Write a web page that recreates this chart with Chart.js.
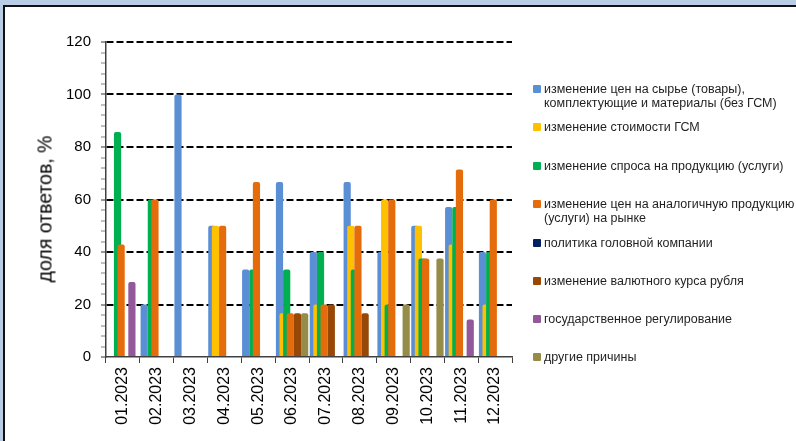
<!DOCTYPE html>
<html>
<head>
<meta charset="utf-8">
<script src="https://cdn.jsdelivr.net/npm/chart.js@4/dist/chart.umd.min.js"></script>
<style>
  html, body { margin: 0; padding: 0; }
  body { width: 796px; height: 441px; background: #b9cde5; position: relative; overflow: hidden;
         font-family: "Liberation Sans", Arial, sans-serif; }
  #frame { position: absolute; left: 3px; top: 5px; width: 800px; height: 450px; background: #fff;
           border-left: 2px solid #111; border-top: 2px solid #111; }
  #wrap { position: absolute; left: 0; top: 0; width: 796px; height: 441px; }
  #ytitle { position: absolute; left: 45px; top: 209px; transform: translate(-50%, -50%) rotate(-90deg);
            font-size: 19.5px; color: #000; white-space: nowrap; }
  #legend { position: absolute; left: 0; top: 0; }
  .item { position: absolute; left: 533px; font-size: 12.5px; line-height: 14px; color: #1f1f1f; white-space: nowrap; }
  .item .box { position: absolute; left: 0; top: 3px; width: 8px; height: 8px; border-radius: 1px; }
  .item .txt { position: absolute; left: 11px; top: 0; }
</style>
</head>
<body>
<div id="frame"></div>
<div id="wrap"><canvas id="chart" width="796" height="441"></canvas></div>
<div id="ytitle">доля ответов, %</div>
<div id="legend"></div>
<script>
// categories (months)
const months = ['01.2023', '02.2023', '03.2023', '04.2023', '05.2023', '06.2023',
                '07.2023', '08.2023', '09.2023', '10.2023', '11.2023', '12.2023'];

// share of answers, %
const rawMaterials    = [0, 20, 100, 50, 33.3, 66.7, 40, 66.7, 40, 50, 57.1, 40];
const fuelCost        = [0, 0, 0, 50, 0, 16.7, 20, 50, 60, 50, 42.9, 20];
const demand          = [85.7, 60, 0, 0, 33.3, 33.3, 40, 33.3, 20, 37.5, 57.1, 40];
const marketPrices    = [42.9, 60, 0, 50, 66.7, 16.7, 20, 50, 60, 37.5, 71.4, 60];
const headCompany     = [0, 0, 0, 0, 0, 0, 0, 0, 0, 0, 0, 0];
const exchangeRate    = [0, 0, 0, 0, 0, 16.7, 20, 16.7, 0, 0, 0, 0];
const stateRegulation = [28.6, 0, 0, 0, 0, 0, 0, 0, 0, 0, 14.3, 0];
const otherReasons    = [0, 0, 0, 0, 0, 16.7, 0, 0, 20, 37.5, 0, 0];

const seriesNames = [
  ['изменение цен на сырье (товары),', 'комплектующие и материалы (без ГСМ)'],
  ['изменение стоимости ГСМ'],
  ['изменение спроса на продукцию (услуги)'],
  ['изменение цен на аналогичную продукцию', '(услуги) на рынке'],
  ['политика головной компании'],
  ['изменение валютного курса рубля'],
  ['государственное регулирование'],
  ['другие причины']
];
const seriesData = [rawMaterials, fuelCost, demand, marketPrices, headCompany, exchangeRate, stateRegulation, otherReasons];
const seriesColors = ['#5b8fd5', '#ffc000', '#00b050', '#e46c0a', '#002060', '#974807', '#935899', '#958c4a'];

const yTicks = [0, 20, 40, 60, 80, 100, 120];

// legend layout (top of first text line for each item)
const legendTops = [82, 120, 159, 197, 236, 274, 312, 350];

const FONT = '"Liberation Sans", Arial, sans-serif';

// Excel draws later series on top of earlier ones
const drawInOrder = {
  id: 'drawInOrder',
  beforeDatasetsDraw(chart) {
    const ctx = chart.ctx;
    const a = chart.chartArea;
    ctx.save();
    ctx.beginPath();
    ctx.rect(a.left, a.top - 5, a.width, a.height + 5);
    ctx.clip();
    chart.data.datasets.forEach((ds, i) => {
      const meta = chart.getDatasetMeta(i);
      if (!meta.hidden) meta.controller.draw();
    });
    ctx.restore();
    return false;
  }
};

new Chart(document.getElementById('chart'), {
  type: 'bar',
  data: {
    labels: months,
    datasets: seriesData.map((d, i) => ({
      label: seriesNames[i].join(' '),
      data: d,
      backgroundColor: seriesColors[i],
      borderWidth: 0,
      borderRadius: 2,
      categoryPercentage: 0.85,
      barPercentage: 2
    }))
  },
  options: {
    responsive: false,
    animation: false,
    layout: { padding: { left: 0, top: 42, right: 284, bottom: 0 } },
    plugins: { legend: { display: false }, tooltip: { enabled: false } },
    scales: {
      x: {
        afterFit(scale) { scale.height = 84; },
        grid: { offset: true, drawOnChartArea: false, tickLength: 6, tickColor: '#404040', tickWidth: 1 },
        border: { color: '#404040', width: 1.5 },
        ticks: { minRotation: 90, maxRotation: 90, padding: 4, autoSkip: false,
                 color: '#000', font: { family: FONT, size: 16 } }
      },
      y: {
        min: 0,
        max: 120,
        afterFit(scale) { scale.width = 106; },
        grid: {
          color: c => (yTicks.includes(c.tick.value) && c.tick.value !== 0) ? '#000' : 'rgba(0,0,0,0)',
          lineWidth: 2,
          tickLength: 5,
          tickWidth: 1,
          tickColor: c => yTicks.includes(c.tick.value) ? '#303030' : '#808080'
        },
        border: { color: '#404040', width: 1.5, dash: [7, 3] },
        ticks: {
          stepSize: 4,
          maxTicksLimit: 100,
          autoSkip: false,
          padding: 10,
          color: '#000',
          font: { family: FONT, size: 15 },
          callback: v => yTicks.includes(v) ? String(v) : ''
        }
      }
    }
  },
  plugins: [drawInOrder]
});

// legend as html so long names can wrap like the original
const legend = document.getElementById('legend');
seriesNames.forEach((lines, i) => {
  const item = document.createElement('div');
  item.className = 'item';
  item.style.top = legendTops[i] + 'px';
  item.innerHTML = '<span class="box" style="background:' + seriesColors[i] + '"></span>' +
                   '<span class="txt">' + lines.join('<br>') + '</span>';
  legend.appendChild(item);
});
</script>
</body>
</html>
